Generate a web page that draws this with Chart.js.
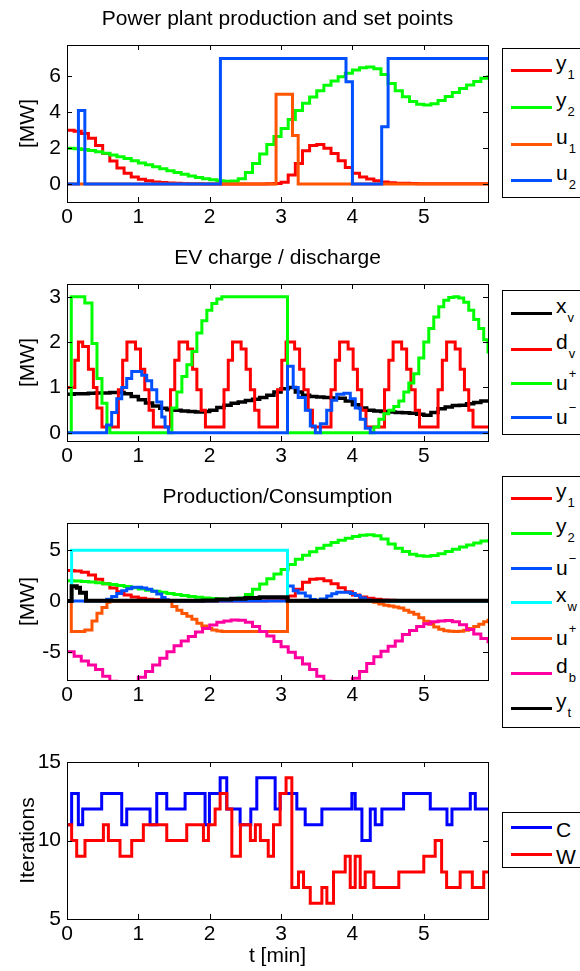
<!DOCTYPE html>
<html>
<head>
<meta charset="utf-8">
<script src="https://cdn.jsdelivr.net/npm/chart.js@4"></script>
<style>
  body { margin: 0; background: #fff; width: 580px; height: 971px; overflow: hidden; position: relative;
         font-family: 'Liberation Sans', Arial, Helvetica, sans-serif; color: #000; }
  .panel { position: absolute; left: 0; width: 500px; }
  .lg { position: absolute; left: 502px; width: 100px; border: 1px solid #000; box-sizing: border-box; background: #fff; }
  .it { position: absolute; left: 8px; width: 90px; height: 0; }
  .it i { position: absolute; left: 0; top: -1.5px; width: 41px; height: 3px; }
  .it span { position: absolute; left: 45px; font-size: 21px; line-height: 24px; white-space: nowrap; }
  .it span.sb { top: -19px; }
  .it span.sp { top: -12px; }
  .it span.pl { top: -9px; }
  sub { font-size: 13px; vertical-align: -9px; line-height: 0; margin-left: 1px; }
  sup { font-size: 13px; vertical-align: 12px; line-height: 0; margin-left: 1px; }
</style>
</head>
<body>

<div class="panel" style="top:0px;height:232px"><canvas id="c1" width="500" height="232"></canvas></div>
<div class="panel" style="top:239px;height:232px"><canvas id="c2" width="500" height="232"></canvas></div>
<div class="panel" style="top:478px;height:232px"><canvas id="c3" width="500" height="232"></canvas></div>
<div class="panel" style="top:717px;height:252px"><canvas id="c4" width="500" height="252"></canvas></div>

<!-- legends -->
<div class="lg" style="top:48px;height:150px">
  <div class="it" style="top:21px"><i style="background:#ff0000"></i><span class="sb">y<sub>1</sub></span></div>
  <div class="it" style="top:58px"><i style="background:#00ff00"></i><span class="sb">y<sub>2</sub></span></div>
  <div class="it" style="top:95px"><i style="background:#ff5500"></i><span class="sb">u<sub>1</sub></span></div>
  <div class="it" style="top:131px"><i style="background:#0050ff"></i><span class="sb">u<sub>2</sub></span></div>
</div>
<div class="lg" style="top:290px;height:145px">
  <div class="it" style="top:22px"><i style="background:#000000"></i><span class="sb">x<sub>v</sub></span></div>
  <div class="it" style="top:58px"><i style="background:#ff0000"></i><span class="sb">d<sub>v</sub></span></div>
  <div class="it" style="top:92px"><i style="background:#00ff00"></i><span class="sp">u<sup>+</sup></span></div>
  <div class="it" style="top:126px"><i style="background:#0050ff"></i><span class="sp">u<sup>−</sup></span></div>
</div>
<div class="lg" style="top:476px;height:252px">
  <div class="it" style="top:21px"><i style="background:#ff0000"></i><span class="sb">y<sub>1</sub></span></div>
  <div class="it" style="top:56px"><i style="background:#00ff00"></i><span class="sb">y<sub>2</sub></span></div>
  <div class="it" style="top:91px"><i style="background:#0050ff"></i><span class="sp">u<sup>−</sup></span></div>
  <div class="it" style="top:125px"><i style="background:#00ffff"></i><span class="sb">x<sub>w</sub></span></div>
  <div class="it" style="top:161px"><i style="background:#ff5500"></i><span class="sp">u<sup>+</sup></span></div>
  <div class="it" style="top:196px"><i style="background:#ff00a0"></i><span class="sb">d<sub>b</sub></span></div>
  <div class="it" style="top:231px"><i style="background:#000000"></i><span class="sb">y<sub>t</sub></span></div>
</div>
<div class="lg" style="top:812px;height:56px">
  <div class="it" style="top:14px"><i style="background:#0000ff"></i><span class="pl">C</span></div>
  <div class="it" style="top:41px"><i style="background:#ff0000"></i><span class="pl">W</span></div>
</div>

<script>
// ---------- data (time in minutes) ----------
const xTicks = [0, 1, 2, 3, 4, 5];

// sampled smooth signals, one value per 0.1 min
const tGrid = [0,0.1,0.2,0.3,0.4,0.5,0.6,0.7,0.8,0.9,1,1.1,1.2,1.3,1.4,1.5,1.6,1.7,1.8,1.9,
  2,2.1,2.2,2.3,2.4,2.5,2.6,2.7,2.8,2.9,3,3.1,3.2,3.3,3.4,3.5,3.6,3.7,3.8,3.9,
  4,4.1,4.2,4.3,4.4,4.5,4.6,4.7,4.8,4.9,5,5.1,5.2,5.3,5.4,5.5,5.6,5.7,5.8,5.9];

const y1Vals = [3.0,2.95,2.82,2.55,2.15,1.7,1.28,0.9,0.6,0.4,
  0.27,0.18,0.12,0.08,0.06,0.04,0.03,0.02,0.02,0.01,
  0.01,0.01,0.01,0.01,0.01,0.01,0.01,0.01,0.02,0.03,
  0.1,0.5,1.15,1.85,2.15,2.2,2.0,1.7,1.3,0.92,
  0.6,0.4,0.28,0.18,0.11,0.07,0.05,0.04,0.03,0.02,
  0.02,0.02,0.02,0.02,0.02,0.02,0.02,0.02,0.02,0.02];

const y2Vals = [2.0,1.97,1.93,1.87,1.8,1.71,1.62,1.52,1.42,1.3,
  1.18,1.07,0.96,0.85,0.74,0.64,0.54,0.45,0.37,0.3,
  0.24,0.19,0.16,0.17,0.3,0.65,1.15,1.68,2.2,2.65,
  3.1,3.6,4.1,4.5,4.85,5.2,5.5,5.75,5.98,6.18,
  6.35,6.48,6.52,6.42,6.1,5.6,5.2,4.87,4.6,4.45,
  4.4,4.48,4.66,4.88,5.1,5.32,5.52,5.72,5.9,6.07];

const xvVals = [0.85,0.86,0.86,0.87,0.88,0.88,0.89,0.89,0.86,0.8,
  0.73,0.66,0.59,0.54,0.51,0.5,0.48,0.47,0.46,0.47,
  0.5,0.56,0.61,0.65,0.68,0.71,0.74,0.78,0.83,0.9,
  0.97,1.0,0.9,0.83,0.8,0.79,0.78,0.77,0.76,0.7,
  0.62,0.55,0.5,0.48,0.47,0.46,0.45,0.44,0.43,0.41,
  0.39,0.45,0.53,0.57,0.6,0.61,0.64,0.67,0.7,0.72];

const dbVals = [-5.0,-5.45,-5.9,-6.3,-6.75,-7.4,-7.9,-8.1,-8.15,-8.0,
  -7.5,-6.95,-6.3,-5.65,-5.0,-4.4,-3.95,-3.5,-3.05,-2.7,
  -2.36,-2.1,-1.97,-1.88,-1.9,-2.1,-2.5,-3.0,-3.45,-4.0,
  -4.5,-5.05,-5.6,-6.2,-6.75,-7.4,-7.9,-8.1,-8.2,-8.0,
  -7.6,-6.95,-6.15,-5.5,-4.95,-4.45,-3.95,-3.3,-2.9,-2.5,
  -2.25,-2.05,-1.97,-1.93,-2.05,-2.35,-2.8,-3.25,-3.7,-4.17];

// piecewise constant signals: value holds from each time to the next
const u1T = [0, 2.93, 3.16, 3.24, 5.9];
const u1V = [0, 5, 2.7, 0, 0];
const u2T = [0, 0.16, 0.25, 2.15, 3.91, 4.0, 4.41, 4.5, 5.9];
const u2V = [0, 4.1, 0, 7, 5.7, 0, 3.2, 7, 7];

const dvT = [0,0.11,0.16,0.22,0.3,0.37,0.42,0.49,
  0.72,0.78,0.84,0.96,1.03,1.09,1.15,1.21,
  1.45,1.51,1.57,1.69,1.76,1.82,1.88,1.94,
  2.2,2.26,2.32,2.44,2.51,2.57,2.63,2.69,
  2.95,3.01,3.07,3.19,3.26,3.32,3.38,3.44,
  3.7,3.76,3.82,3.94,4.01,4.07,4.13,4.19,
  4.45,4.51,4.57,4.69,4.76,4.82,4.88,4.94,
  5.2,5.26,5.32,5.44,5.51,5.57,5.63,5.69,5.9];
const dvV = [1,1.6,2,1.9,1.4,1,0.55,0.13,
  0.95,1.6,2,1.85,1.4,0.95,0.5,0.13,
  0.95,1.6,2,1.85,1.4,0.95,0.5,0.13,
  0.95,1.6,2,1.85,1.4,0.95,0.5,0.13,
  0.95,1.6,2,1.85,1.4,0.95,0.5,0.13,
  0.95,1.6,2,1.85,1.4,0.95,0.5,0.13,
  0.95,1.6,2,1.85,1.4,0.95,0.5,0.13,
  0.95,1.6,2,1.85,1.4,0.95,0.5,0.13,0.13];

const uPlusT = [0,0.06,0.25,0.35,0.42,0.49,0.56,0.6,
  1.47,1.54,1.61,1.68,1.75,1.82,1.89,1.96,2.03,2.1,2.17,3.09,
  4.3,4.37,4.44,4.51,4.58,4.65,4.72,4.79,4.86,4.93,
  5.0,5.07,5.14,5.21,5.28,5.35,5.42,5.49,5.56,5.63,5.7,5.77,5.84,5.9];
const uPlusV = [0,3,2.86,1.97,1.2,0.65,0.13,0,
  0.55,0.9,1.24,1.5,1.79,2.2,2.47,2.7,2.85,2.95,3,0,
  0.13,0.3,0.42,0.5,0.58,0.7,0.9,1.1,1.3,1.65,
  2,2.3,2.55,2.78,2.92,2.98,3,2.97,2.88,2.7,2.5,2.3,2.05,1.75];
// the same control drawn as consumption (negative) in the balance plot
const uPlusNegV = [0,-3,-2.86,-1.97,-1.2,-0.65,-0.13,0,
  -0.55,-0.9,-1.24,-1.5,-1.79,-2.2,-2.47,-2.7,-2.85,-2.95,-3,0,
  -0.13,-0.3,-0.42,-0.5,-0.58,-0.7,-0.9,-1.1,-1.3,-1.65,
  -2,-2.3,-2.55,-2.78,-2.92,-2.98,-3,-2.97,-2.88,-2.7,-2.5,-2.3,-2.05,-1.75];

const uMinusT = [0,0.556,0.626,0.697,0.767,0.837,0.907,1.047,1.117,1.187,
  1.258,1.328,1.374,1.421,3.09,3.17,3.24,3.34,3.41,3.48,
  3.55,3.64,3.71,3.78,3.88,3.97,4.04,4.11,4.18,4.25,5.9];
const uMinusV = [0,0.17,0.45,0.75,1.0,1.2,1.35,1.27,1.15,0.95,
  0.68,0.35,0.13,0,1.47,1.0,0.78,0.5,0.15,0,
  0.2,0.5,0.72,0.85,0.87,0.75,0.55,0.3,0.1,0,0];

const xwT = [0, 0.065, 3.09, 5.9];
const xwV = [0, 5, 0, 0];

const ytT = [0, 0.065, 0.136, 0.182, 0.266, 1.9, 2.1, 2.3, 2.5, 2.7, 2.9, 3.09, 5.9];
const ytV = [0, 1.45, 1.3, 0.8, 0.02, 0.06, 0.14, 0.22, 0.3, 0.36, 0.38, 0.02, 0.02];

// solver iterations
const itCT = [0,0.065,0.159,0.22,0.486,0.767,0.837,1.164,1.258,1.398,
  1.655,1.935,1.996,2.146,2.239,2.426,2.576,2.66,2.917,2.987,
  3.221,3.338,3.572,3.992,4.039,4.133,4.25,4.32,4.413,4.717,
  5.091,5.325,5.395,5.652,5.722,5.9];
const itCV = [11,13,11,12,13,11,12,11,13,12,
  13,11,13,14,12,11,12,14,12,13,
  12,11,12,13,12,10,12,11,12,13,
  12,11,12,13,12,12];
const itWT = [0,0.065,0.136,0.252,0.51,0.58,0.743,0.907,1.07,1.398,
  1.678,1.912,1.982,2.076,2.146,2.24,2.31,2.43,2.57,2.64,
  2.71,2.82,2.894,2.987,3.07,3.151,3.244,3.315,3.409,3.572,
  3.642,3.735,3.899,3.969,4.039,4.109,4.179,4.3,4.65,5.0,
  5.16,5.25,5.32,5.51,5.68,5.84,5.9];
const itWV = [11,10,9,10,11,10,9,10,11,10,
  11,10,11,12,13,12,9,11,10,11,
  10,9,11,13,14,7,8,7,6,7,
  6,8,9,7,9,7,8,7,8,9,
  10,8,7,8,7,8,8];

// ---------- helpers ----------
const RED = '#ff0000', GREEN = '#00ff00', ORANGE = '#ff5500', BLUE = '#0050ff',
      CYAN = '#00ffff', MAGENTA = '#ff00a0', BLACK = '#000000', PURE_BLUE = '#0000ff';
const FS = 21;

Chart.defaults.font.family = "'Liberation Sans', Arial, Helvetica, sans-serif";
Chart.defaults.font.size = FS;
Chart.defaults.color = '#000';
Chart.defaults.animation = false;

function pts(t, v) {
  return t.map((x, i) => ({ x: x, y: v[i] }));
}

// MATLAB style box with inward tick marks on all four sides
const boxPlugin = {
  id: 'matlabBox',
  afterDatasetsDraw(chart) {
    const { ctx, chartArea: a, scales } = chart;
    const tl = 5;
    ctx.save();
    ctx.strokeStyle = '#000';
    ctx.lineWidth = 1;
    ctx.beginPath();
    scales.x.ticks.forEach(t => {
      const px = Math.round(scales.x.getPixelForValue(t.value)) + 0.5;
      ctx.moveTo(px, a.bottom); ctx.lineTo(px, a.bottom - tl);
      ctx.moveTo(px, a.top); ctx.lineTo(px, a.top + tl);
    });
    scales.y.ticks.forEach(t => {
      const py = Math.round(scales.y.getPixelForValue(t.value)) + 0.5;
      ctx.moveTo(a.left, py); ctx.lineTo(a.left + tl, py);
      ctx.moveTo(a.right, py); ctx.lineTo(a.right - tl, py);
    });
    ctx.stroke();
    ctx.strokeRect(Math.round(a.left) + 0.5, Math.round(a.top) + 0.5,
                   Math.round(a.right - a.left), Math.round(a.bottom - a.top));
    ctx.restore();
  }
};

function makePanel(id, cfg) {
  const n = cfg.series.length;
  return new Chart(document.getElementById(id), {
    type: 'line',
    data: {
      datasets: cfg.series.map((s, i) => ({
        data: s.data,
        borderColor: s.color,
        borderWidth: s.width || 3,
        pointRadius: 0,
        stepped: 'before',   // value holds until the next sample (stairs)
        fill: false,
        clip: 0,
        borderJoinStyle: 'miter',
        order: n - i   // later series on top, as in the original
      }))
    },
    options: {
      responsive: false,
      events: [],
      layout: { padding: { top: cfg.title ? 0 : 45, right: 12, bottom: 0, left: 0 } },
      plugins: {
        legend: { display: false },
        tooltip: { enabled: false },
        title: {
          display: !!cfg.title,
          text: cfg.title || '',
          fullSize: false,
          color: '#000',
          font: { size: FS, weight: 'normal' },
          padding: { top: 7, bottom: 12.8 }
        }
      },
      scales: {
        x: {
          type: 'linear', min: 0, max: 5.9,
          afterBuildTicks: s => { s.ticks = xTicks.map(v => ({ value: v })); },
          afterFit: s => { s.height = cfg.xh; },
          grid: { display: false, drawTicks: false },
          border: { display: false },
          ticks: { padding: 3, maxRotation: 0, autoSkip: false, font: { size: FS } },
          title: {
            display: !!cfg.xTitle, text: cfg.xTitle || '',
            font: { size: FS }, padding: { top: 0, bottom: 0 }
          }
        },
        y: {
          type: 'linear', min: cfg.yMin, max: cfg.yMax,
          afterBuildTicks: s => { s.ticks = cfg.yTicks.map(v => ({ value: v })); },
          afterFit: s => { s.width = 67; },
          grid: { display: false, drawTicks: false },
          border: { display: false },
          ticks: { padding: 6, font: { size: FS } },
          title: {
            display: true, text: cfg.yTitle,
            font: { size: FS }, padding: { top: 16, bottom: 0 }
          }
        }
      }
    },
    plugins: [boxPlugin]
  });
}

// ---------- panels ----------
makePanel('c1', {
  title: 'Power plant production and set points',
  yTitle: '[MW]', yMin: -1, yMax: 7.75, yTicks: [0, 2, 4, 6], xh: 30,
  series: [
    { data: pts(tGrid, y1Vals), color: RED },
    { data: pts(tGrid, y2Vals), color: GREEN },
    { data: pts(u1T, u1V), color: ORANGE },
    { data: pts(u2T, u2V), color: BLUE }
  ]
});

makePanel('c2', {
  title: 'EV charge / discharge',
  yTitle: '[MW]', yMin: -0.18, yMax: 3.28, yTicks: [0, 1, 2, 3], xh: 30,
  series: [
    { data: pts(tGrid, xvVals), color: BLACK, width: 3.5 },
    { data: pts(dvT, dvV), color: RED },
    { data: pts(uPlusT, uPlusV), color: GREEN },
    { data: pts(uMinusT, uMinusV), color: BLUE }
  ]
});

makePanel('c3', {
  title: 'Production/Consumption',
  yTitle: '[MW]', yMin: -7.78, yMax: 7.68, yTicks: [-5, 0, 5], xh: 30,
  series: [
    { data: pts(tGrid, y1Vals), color: RED },
    { data: pts(tGrid, y2Vals), color: GREEN },
    { data: pts(uMinusT, uMinusV), color: BLUE },
    { data: pts(xwT, xwV), color: CYAN },
    { data: pts(uPlusT, uPlusNegV), color: ORANGE },
    { data: pts(tGrid, dbVals), color: MAGENTA },
    { data: pts(ytT, ytV), color: BLACK, width: 4 }
  ]
});

makePanel('c4', {
  title: null,
  yTitle: 'Iterations', yMin: 5, yMax: 15, yTicks: [5, 10, 15], xh: 50,
  xTitle: 't [min]',
  series: [
    { data: pts(itCT, itCV), color: PURE_BLUE },
    { data: pts(itWT, itWV), color: RED }
  ]
});
</script>
</body>
</html>
